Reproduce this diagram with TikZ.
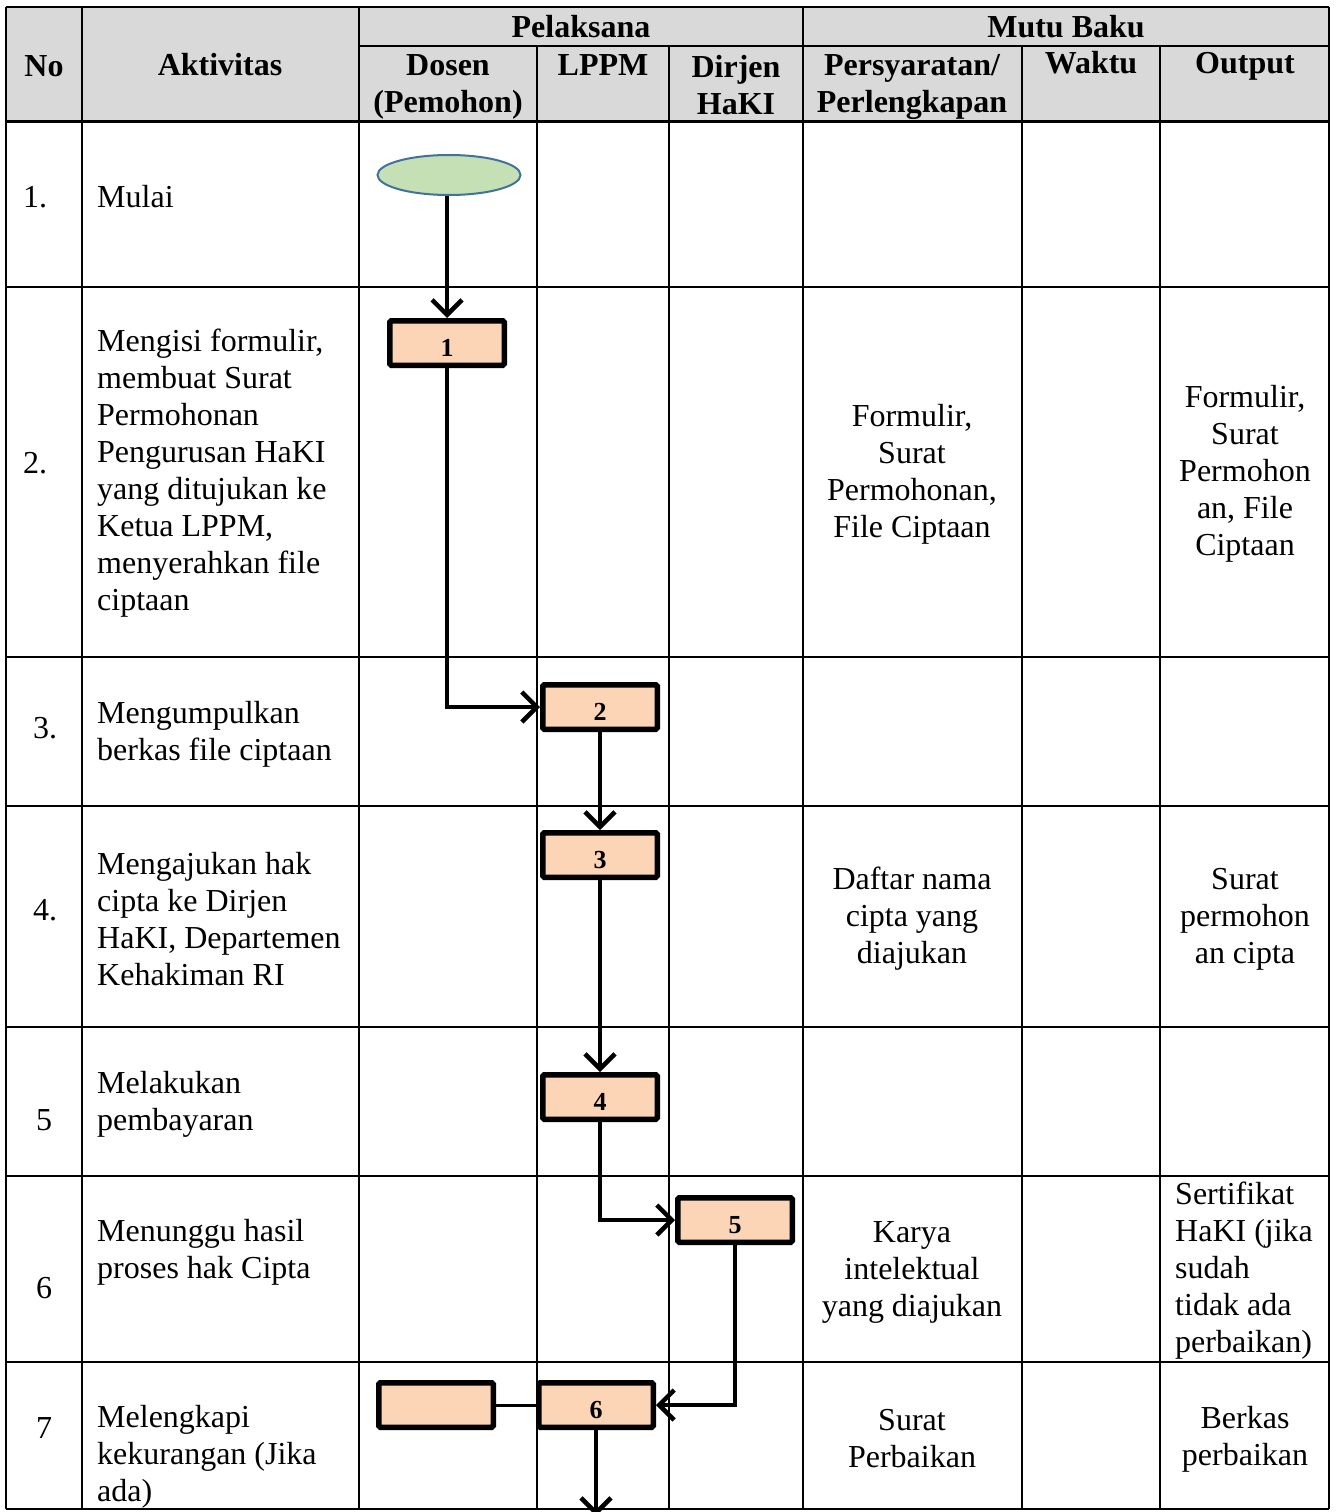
\documentclass[tikz,border=0pt]{standalone}
\usepackage{fontspec}
\setmainfont{Liberation Serif}
\usetikzlibrary{arrows.meta,shapes.geometric}
\definecolor{hdr}{HTML}{D9D9D9}
\definecolor{peach}{HTML}{FBD5B5}
\definecolor{mint}{HTML}{C5E0B4}
\definecolor{eblue}{HTML}{41719C}
\newcommand{\boxnum}[1]{\raisebox{-13pt}[0pt][0pt]{#1}}
\begin{document}
\begin{tikzpicture}[x=1pt,y=-1pt,
  txt/.style={font=\fontsize{32}{37}\selectfont, inner sep=0pt, align=left, anchor=west},
  ctxt/.style={font=\fontsize{32}{37}\selectfont, inner sep=0pt, align=center},
  hd/.style={font=\fontsize{32}{37}\selectfont\bfseries, inner sep=0pt, align=center},
  gridline/.style={line width=2.3pt},
  flowbox/.style={draw, line width=5.5pt, fill=peach, minimum width=114.5pt, minimum height=44.5pt, inner sep=0pt, font=\fontsize{26}{26}\selectfont\bfseries, rounded corners=1.5pt},
  flow/.style={line width=4.5pt, -{Straight Barb[length=15pt,width=30pt]}},
]
\useasboundingbox[fill=white] (0,0) rectangle (1336,1512);
% header background
\fill[hdr] (6,7) rectangle (1329,121);
% grid
\foreach \y in {7,287,657,806,1027,1176,1362,1509}
  \draw[gridline] (6,\y) -- (1329,\y);
\draw[line width=3pt] (6,121) -- (1329,121);
\draw[gridline] (359,46) -- (1329,46);
\foreach \x in {6,82,359,803,1329}
  \draw[gridline] (\x,7) -- (\x,1509);
\foreach \x in {537,669,1022,1160}
  \draw[gridline] (\x,46) -- (\x,1509);

% headers
\node[hd] (hNo) at (44,66) {No};
\node[hd] (hAkt) at (220,65) {Aktivitas};
\node[hd] (hPel) at (581,27) {Pelaksana};
\node[hd] (hMutu) at (1066,27) {Mutu Baku};
\node[hd] (hDos) at (448,87) {Dosen\\(Pemohon)};
\node[hd] (hLPPM) at (603,65) {LPPM};
\node[hd] (hDir) at (736,85) {Dirjen\\HaKI};
\node[hd] (hPers) at (912,87) {Persyaratan/\\Perlengkapan};
\node[hd] (hWak) at (1091,63) {Waktu};
\node[hd] (hOut) at (1245,66) {Output};

% numbers
\node[txt] (n1) at (23,197) {1.};
\node[txt] (n2) at (23,463) {2.};
\node[txt] (n3) at (33,728) {3.};
\node[txt] (n4) at (33,910) {4.};
\node[ctxt] (n5) at (44,1120) {5};
\node[ctxt] (n6) at (44,1288) {6};
\node[ctxt] (n7) at (44,1428) {7};

% activities
\node[txt] (a1) at (97,197) {Mulai};
\node[txt] (a2) at (97,473) {Mengisi formulir,\\membuat Surat\\Permohonan\\Pengurusan HaKI\\yang ditujukan ke\\Ketua LPPM,\\menyerahkan file\\ciptaan};
\node[txt] (a3) at (97,734) {Mengumpulkan\\berkas file ciptaan};
\node[txt] (a4) at (97,919) {Mengajukan hak\\cipta ke Dirjen\\HaKI, Departemen\\Kehakiman RI};
\node[txt] (a5) at (97,1104) {Melakukan\\pembayaran};
\node[txt] (a6) at (97,1252) {Menunggu hasil\\proses hak Cipta};
\node[txt] (a7) at (97,1457) {Melengkapi\\kekurangan (Jika\\ada)};

% persyaratan
\node[ctxt] (p2) at (912,474) {Formulir,\\Surat\\Permohonan,\\File Ciptaan};
\node[ctxt] (p4) at (912,919) {Daftar nama\\cipta yang\\diajukan};
\node[ctxt] (p6) at (912,1272) {Karya\\intelektual\\yang diajukan};
\node[ctxt] (p7) at (912,1439) {Surat\\Perbaikan};

% output
\node[ctxt] (o2) at (1245,474) {Formulir,\\Surat\\Permohon\\an, File\\Ciptaan};
\node[ctxt] (o4) at (1245,919) {Surat\\permohon\\an cipta};
\node[txt] (o6) at (1175,1271) {Sertifikat\\HaKI (jika\\sudah\\tidak ada\\perbaikan)};
\node[ctxt] (o7) at (1245,1439) {Berkas\\perbaikan};

% flow
\node[ellipse, draw=eblue, fill=mint, line width=2pt, minimum width=143pt, minimum height=40pt, inner sep=0pt] (start) at (449,175) {};
\node[flowbox] (b1) at (447,343) {\boxnum{1}};
\node[flowbox] (b2) at (600,707) {\boxnum{2}};
\node[flowbox] (b3) at (600,855) {\boxnum{3}};
\node[flowbox] (b4) at (600,1097) {\boxnum{4}};
\node[flowbox] (b5) at (735,1220) {\boxnum{5}};
\node[flowbox] (b6) at (596,1405) {\boxnum{6}};
\node[flowbox] (b0) at (436,1405) {};
\coordinate (fend) at (599,1516);

\draw[flow] (b1.north |- start.south) -- (b1.north);
\draw[flow] (b1.south) |- (b2.west);
\draw[flow] (b2.south) -- (b3.north);
\draw[flow] (b3.south) -- (b4.north);
\draw[flow] (b4.south) |- (b5.west);
\draw[flow] (b5.south) |- (b6.east);
\draw[flow] (b6.south) -- (b6.south |- fend);
\draw[line width=3pt] (b0.east) -- (b6.west);
\end{tikzpicture}
\end{document}
